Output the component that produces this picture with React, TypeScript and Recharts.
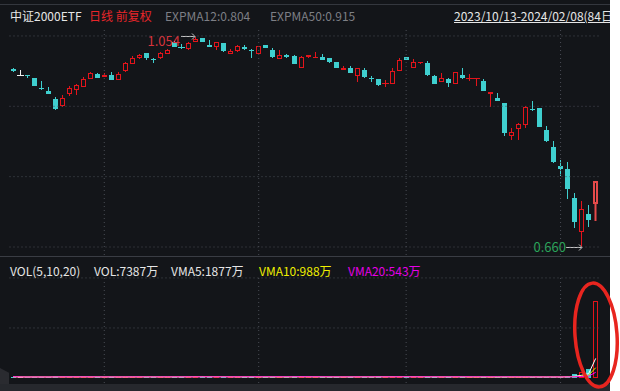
import React from "react";
import { Bar, ComposedChart, Line, ReferenceLine, XAxis, YAxis } from "recharts";

// 中证2000ETF daily, 2023/10/13 - 2024/02/08 (84 days)
const opens = [
  0.994, 0.983, 0.983, 0.977, 0.958, 0.953, 0.938, 0.925, 0.947, 0.955,
  0.96, 0.975, 0.985, 0.979, 0.983, 0.973, 0.991, 1.003, 1.015, 1.024,
  1.012, 1.015, 1.022, 1.045, 1.036, 1.031, 1.045, 1.053, 1.039, 1.036,
  1.043, 1.023, 1.028, 1.035, 1.029, 1.023, 1.039, 1.03, 1.012, 1.02,
  1.018, 0.995, 1.016, 1.015, 1.016, 1.015, 1.007, 0.992, 0.996, 0.98,
  0.992, 0.977, 0.975, 0.967, 0.966, 0.991, 1.016, 0.996, 1.005, 1.006,
  0.981, 0.969, 0.975, 0.965, 0.983, 0.977, 0.977, 0.971, 0.948, 0.94,
  0.93, 0.868, 0.882, 0.889, 0.919, 0.921, 0.88, 0.848, 0.812, 0.806,
  0.752, 0.689, 0.722, 0.74,
];
const closes = [
  0.99, 0.983, 0.981, 0.962, 0.956, 0.947, 0.919, 0.94, 0.958, 0.964,
  0.975, 0.986, 0.977, 0.983, 0.973, 0.985, 1.005, 1.015, 1.02, 1.015,
  1.01, 1.024, 1.03, 1.036, 1.035, 1.042, 1.051, 1.045, 1.036, 1.044,
  1.028, 1.028, 1.037, 1.031, 1.027, 1.037, 1.034, 1.017, 1.02, 1.017,
  1.004, 1.016, 1.02, 1.016, 1.011, 1.008, 0.995, 0.995, 0.987, 0.995,
  0.979, 0.976, 0.964, 0.968, 0.99, 1.011, 1.011, 1.007, 1.008, 0.983,
  0.966, 0.978, 0.968, 0.988, 0.977, 0.978, 0.978, 0.953, 0.951, 0.934,
  0.874, 0.876, 0.891, 0.923, 0.918, 0.886, 0.859, 0.819, 0.807, 0.769,
  0.706, 0.731, 0.711, 0.784,
];
const highs = [
  0.995, 0.992, 0.983, 0.977, 0.971, 0.96, 0.941, 0.945, 0.962, 0.966,
  0.979, 0.988, 0.986, 0.986, 0.988, 0.988, 1.007, 1.018, 1.022, 1.024,
  1.015, 1.026, 1.032, 1.047, 1.041, 1.045, 1.054, 1.053, 1.048, 1.044,
  1.043, 1.031, 1.039, 1.039, 1.031, 1.037, 1.039, 1.033, 1.03, 1.023,
  1.02, 1.018, 1.02, 1.026, 1.022, 1.015, 1.007, 1.0, 1.0, 0.995,
  0.996, 0.98, 0.975, 0.973, 0.996, 1.015, 1.016, 1.013, 1.008, 1.009,
  0.983, 0.986, 0.978, 0.988, 0.996, 0.985, 0.978, 0.975, 0.951, 0.949,
  0.93, 0.883, 0.893, 0.925, 0.934, 0.921, 0.887, 0.859, 0.823, 0.819,
  0.761, 0.746, 0.739, 0.784,
];
const lows = [
  0.989, 0.983, 0.977, 0.962, 0.955, 0.947, 0.917, 0.923, 0.943, 0.945,
  0.96, 0.975, 0.977, 0.979, 0.973, 0.973, 0.988, 1.003, 1.013, 1.011,
  1.006, 1.013, 1.022, 1.036, 1.031, 1.029, 1.044, 1.045, 1.036, 1.03,
  1.025, 1.023, 1.025, 1.03, 1.015, 1.023, 1.034, 1.015, 1.012, 1.015,
  1.004, 0.995, 1.015, 1.015, 1.011, 1.006, 0.995, 0.992, 0.987, 0.97,
  0.977, 0.97, 0.962, 0.96, 0.966, 0.991, 1.01, 0.995, 1.003, 0.981,
  0.966, 0.969, 0.96, 0.965, 0.975, 0.972, 0.963, 0.953, 0.923, 0.934,
  0.869, 0.861, 0.861, 0.884, 0.915, 0.886, 0.857, 0.818, 0.794, 0.751,
  0.696, 0.66, 0.698, 0.709,
];
// volume in 万
const volumes = [
  120, 90, 80, 110, 100, 90, 150, 130, 110, 100,
  110, 120, 90, 80, 100, 90, 130, 140, 110, 100,
  90, 110, 120, 130, 100, 120, 180, 150, 100, 110,
  120, 90, 110, 100, 120, 110, 90, 130, 100, 90,
  150, 160, 90, 80, 90, 100, 120, 90, 110, 140,
  120, 90, 150, 100, 170, 140, 100, 110, 90, 120,
  110, 100, 90, 140, 100, 80, 90, 100, 110, 90,
  108, 100, 90, 110, 100, 110, 90, 100, 95, 200,
  350, 550, 900, 7387,
];
const monthStarts = [13, 35, 56, 78];
const priceGrid = [0.66, 0.792, 0.924, 1.056];
const volGrid = [4800, 9600];
const expma12 = 0.804;
const expma50 = 0.915;

const BG = "#131519";
const RED = "#e3141b";
const CYAN = "#3fcfcf";
const WHITE = "#f0f0f0";
const GRID = "#4a4d55";
const FONT = "'Noto Sans CJK SC', 'Noto Sans', sans-serif";

const movingAvg = (n: number) =>
  volumes.map((_, i) => {
    const w = volumes.slice(Math.max(0, i - n + 1), i + 1);
    return w.reduce((a, b) => a + b, 0) / w.length;
  });
const vma5 = movingAvg(5);
const vma10 = movingAvg(10);
const vma20 = movingAvg(20);

const rows = opens.map((o, i) => ({
  i,
  open: o,
  close: closes[i],
  high: highs[i],
  low: lows[i],
  vol: volumes[i],
  vma5: vma5[i],
  vma10: vma10[i],
  vma20: vma20[i],
}));

const maxIdx = highs.indexOf(Math.max(...highs));
const minIdx = lows.indexOf(Math.min(...lows));
const lastIdx = opens.length - 1;

const colorOf = (d: any) => (d.close > d.open ? RED : d.close < d.open ? CYAN : WHITE);

// hollow box built from two filled rects so the outline stays crisp
const Hollow = ({ c, t, b, color, thick = 1 }: any) => (
  <g>
    <rect x={c - 2} y={t} width={5} height={b - t} fill={color} />
    <rect x={c - 2 + thick} y={t + thick} width={5 - 2 * thick} height={Math.max(b - t - 2 * thick, 0)} fill={BG} />
  </g>
);

function Candle(props: any) {
  const { x, y, width, height, payload, index } = props;
  const { open, close, high, low } = payload;
  const c = Math.floor(x + width / 2);
  const py = (p: number) => y + ((high - p) / (high - low)) * height;
  const last = index === lastIdx;
  const color = last ? "#e44a4a" : colorOf(payload);
  const yh = Math.round(py(high));
  const yl = Math.round(py(low));
  const t = Math.round(py(Math.max(open, close)));
  const b = Math.round(py(Math.min(open, close)));
  let body;
  if (close === open || b - t < 1) {
    body = <rect x={c - 3} y={t} width={7} height={1} fill={color} />;
  } else if (close > open && b - t >= 3) {
    body = <Hollow c={c} t={t} b={b} color={color} thick={last ? 2 : 1} />;
  } else {
    body = <rect x={c - 2} y={t} width={5} height={b - t} fill={color} />;
  }
  return (
    <g>
      <rect x={last ? c - 0.5 : c} y={yh} width={last ? 2 : 1} height={yl - yh} fill={color} />
      {body}
      {index === maxIdx && (
        <g>
          <text x={c - 15} y={yh + 9} textAnchor="end" fill="#d8333c" fontSize={13} fontFamily={FONT}>
            {high.toFixed(3)}
          </text>
          <line x1={c - 14} x2={c} y1={yh - 0.5} y2={yh - 0.5} stroke="#c4c4c4" />
          <polyline points={`${c - 3},${yh - 3.5} ${c},${yh - 0.5} ${c - 3},${yh + 2.5}`} fill="none" stroke="#c4c4c4" />
        </g>
      )}
      {index === minIdx && (
        <g>
          <text x={c - 15} y={yl + 5} textAnchor="end" fill="#2aa65a" fontSize={13} fontFamily={FONT}>
            {low.toFixed(3)}
          </text>
          <line x1={c - 15} x2={c + 1} y1={yl + 0.5} y2={yl + 0.5} stroke="#c4c4c4" />
          <polyline points={`${c - 2},${yl - 2.5} ${c + 1},${yl + 0.5} ${c - 2},${yl + 3.5}`} fill="none" stroke="#c4c4c4" />
        </g>
      )}
    </g>
  );
}

function VolBar(props: any) {
  const { x, y, width, height, payload } = props;
  const c = Math.floor(x + width / 2);
  const color = colorOf(payload);
  const b = Math.round(y + height);
  const h = Math.max(b - Math.round(y), 1);
  if (payload.close > payload.open && h >= 3) {
    return <Hollow c={c} t={b - h} b={b} color={color} />;
  }
  return <rect x={c - 2} y={b - h} width={5} height={h} fill={color} />;
}

const margin = { left: 9.5, right: 10.8 };

const span = (left: number, color: string, text: string, extra: any = {}) => (
  <span style={{ position: "absolute", left, top: 0, color, whiteSpace: "nowrap", ...extra }}>{text}</span>
);

export default function App() {
  const vol = volumes[lastIdx];
  return (
    <div style={{ position: "absolute", left: 0, top: 0, width: 620, height: 391, background: "#fff", fontFamily: FONT }}>
      <div style={{ position: "absolute", left: 0, top: 0, width: 610, height: 391, background: BG, overflow: "hidden" }}>
        <div style={{ position: "absolute", left: 0, top: 4, width: 610, height: 1, background: "#34373e" }} />
        <div style={{ position: "absolute", left: 0, top: 7, height: 17, width: 610, fontSize: 12, lineHeight: "17px" }}>
          {span(10, "#e6e6e6", "中证2000ETF")}
          {span(89, "#e8262a", "日线 前复权")}
          {span(165, "#7d7f85", `EXPMA12:${expma12.toFixed(3)}`)}
          {span(270, "#7d7f85", `EXPMA50:${expma50.toFixed(3)}`)}
          {span(454, "#e6e6e6", "2023/10/13-2024/02/08(84日)", { textDecoration: "underline" })}
        </div>
        <div style={{ position: "absolute", left: 0, top: 0 }}>
          <ComposedChart width={610} height={257} data={rows} margin={{ top: 27, bottom: 2, ...margin }}>
            <XAxis dataKey="i" type="category" hide />
            <YAxis type="number" hide domain={[0.645, 1.0728]} allowDataOverflow />
            {priceGrid.map((v) => (
              <ReferenceLine key={"h" + v} y={v} stroke={GRID} strokeDasharray="1 3" />
            ))}
            {monthStarts.map((m) => (
              <ReferenceLine key={"v" + m} x={m} stroke={GRID} strokeDasharray="1 3" />
            ))}
            <Bar dataKey={(d: any) => [d.low, d.high]} shape={<Candle />} isAnimationActive={false} />
          </ComposedChart>
        </div>
        <div style={{ position: "absolute", left: 0, top: 256, width: 610, height: 1, background: "#3a3d44" }} />
        <div style={{ position: "absolute", left: 0, top: 262, height: 17, width: 610, fontSize: 12, lineHeight: "17px" }}>
          {span(10, "#e6e6e6", "VOL(5,10,20)")}
          {span(94, "#e6e6e6", `VOL:${vol}万`)}
          {span(171, "#e6e6e6", `VMA5:${Math.round(vma5[lastIdx])}万`)}
          {span(259, "#f0f000", `VMA10:${Math.round(vma10[lastIdx])}万`)}
          {span(348, "#e600e6", `VMA20:${Math.round(vma20[lastIdx])}万`)}
        </div>
        <div style={{ position: "absolute", left: 0, top: 257 }}>
          <ComposedChart width={610} height={127} data={rows} margin={{ top: 19, bottom: 1, ...margin }}>
            <XAxis dataKey="i" type="category" hide />
            <YAxis type="number" hide domain={[-480, 9785]} allowDataOverflow />
            {volGrid.map((v) => (
              <ReferenceLine key={"h" + v} y={v} stroke={GRID} strokeDasharray="1 3" />
            ))}
            {monthStarts.map((m) => (
              <ReferenceLine key={"v" + m} x={m} stroke={GRID} strokeDasharray="1 3" />
            ))}
            <Bar dataKey="vol" shape={<VolBar />} isAnimationActive={false} />
            <Line dataKey="vma5" stroke="#ffffff" strokeWidth={1} dot={false} isAnimationActive={false} />
            <Line dataKey="vma10" stroke="#f0f000" strokeWidth={1} dot={false} isAnimationActive={false} />
            <Line dataKey="vma20" stroke="#ff00ff" strokeWidth={1} dot={false} isAnimationActive={false} />
          </ComposedChart>
        </div>
        <div style={{ position: "absolute", left: 0, top: 384, width: 610, height: 7, background: "#26282d" }} />
        <div
          style={{
            position: "absolute",
            left: 0,
            top: 368,
            width: 9,
            height: 16,
            background: "#2a2b30",
            clipPath: "polygon(0 0, 100% 30%, 100% 100%, 0 100%)",
          }}
        />
      </div>
      <svg width={620} height={391} style={{ position: "absolute", left: 0, top: 0, pointerEvents: "none" }}>
        <ellipse cx={596} cy={335} rx={21} ry={52} fill="none" stroke="#e8251f" strokeWidth={3.5} transform="rotate(-4 596 335)" />
      </svg>
    </div>
  );
}
